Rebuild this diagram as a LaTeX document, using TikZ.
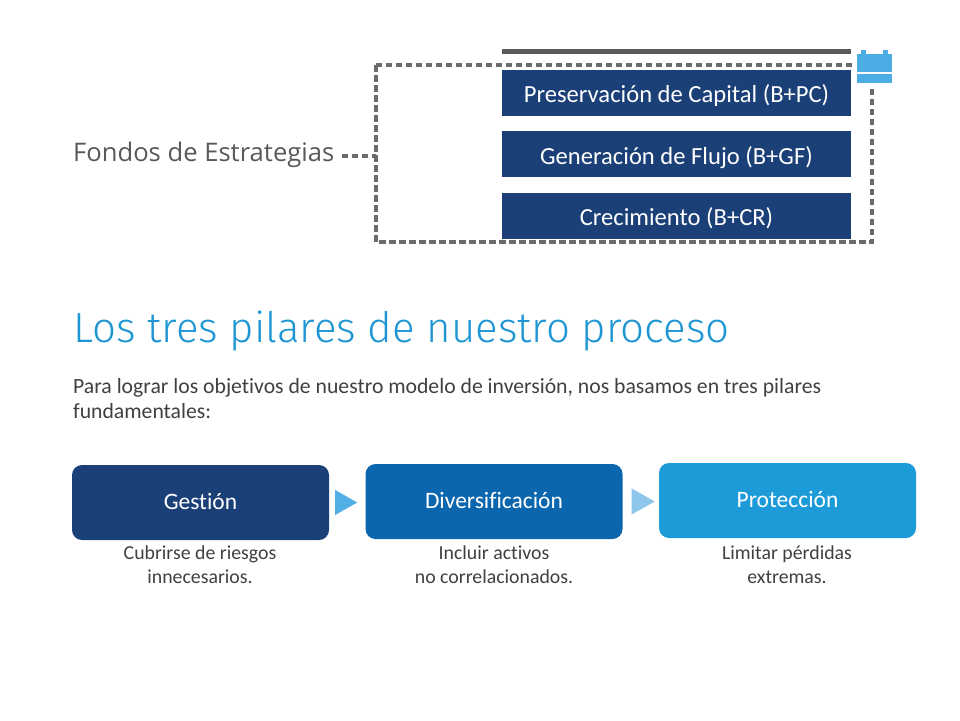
\documentclass[tikz,border=0pt]{standalone}
\usepackage{fontspec}
\setmainfont{Carlito}[Ligatures=NoCommon]
\newfontfamily\opensans{Open Sans}
\IfFontExistsTF{Fira Sans Light}{\newfontfamily\lightfont{Fira Sans Light}}{%
 \IfFontExistsTF{Lato Light}{\newfontfamily\lightfont{Lato Light}}{%
  \IfFontExistsTF{Open Sans Light}{\newfontfamily\lightfont{Open Sans Light}}{%
   \newfontfamily\lightfont{Lato}}}}
\usetikzlibrary{positioning}
\definecolor{navy}{HTML}{1B3F77}
\definecolor{midblue}{HTML}{0B66AE}
\definecolor{lightblue}{HTML}{1D9BD8}
\definecolor{titleblue}{HTML}{1E96D3}
\definecolor{iconblue}{HTML}{4BADE3}
\definecolor{tri1}{HTML}{52AFE6}
\definecolor{tri2}{HTML}{8EC6EC}
\definecolor{txtgray}{HTML}{404040}
\definecolor{dashgray}{HTML}{6B6B6B}
\tikzset{
  fundbox/.style={fill=navy, text=white, minimum width=349pt, minimum height=46pt, inner sep=0pt, text height=21pt, text depth=1pt, font=\fontsize{24.6}{28}\selectfont},
  pillar/.style={rounded corners=10pt, text=white, minimum width=257pt, minimum height=75pt, inner sep=0pt, text height=14pt, text depth=1pt, font=\fontsize{23.5}{27}\selectfont},
  caption/.style={text=txtgray, align=center, font=\fontsize{19.8}{23.5}\selectfont, inner sep=0pt},
  dashline/.style={draw=dashgray, line width=3.5pt, dash pattern=on 6.5pt off 3.5pt},
  icon/.style={fill=iconblue, draw=none},
}
\begin{document}
\begin{tikzpicture}[x=1pt,y=-1pt]
\useasboundingbox (0,0) rectangle (960,720);
\fill[white] (0,0) rectangle (960,720);
% top bar
\fill[black!65] (502,49) rectangle (851,54);
% dashed frame
\coordinate (frameW) at (376,156);
\draw[dashline] (376,65) rectangle (872,242);
% icon (covers frame corner)
\fill[white] (854,46) rectangle (895,85);
\fill[icon] (861,50) rectangle (866,55);
\fill[icon] (883,50) rectangle (888,55);
\fill[icon] (857,54) rectangle (892,72);
\fill[icon] (857,74) rectangle (892,83);
% fund boxes
\node[fundbox] (pc) at (676.5,92.5) {Preservación de Capital (B+PC)};
\node[fundbox] (gf) at (676.5,154) {Generación de Flujo (B+GF)};
\node[fundbox] (cr) at (676.5,215.5) {Crecimiento (B+CR)};
% label
\node[anchor=base west, text=black!65, inner sep=0pt, font=\opensans\fontsize{25.6}{30}\selectfont] (fondos) at (73,161) {Fondos de Estrategias};
\draw[dashline] ([xshift=7pt]fondos.east |- frameW) -- (frameW);
% title
\node[anchor=base west, text=titleblue, inner sep=0pt, font=\lightfont\fontsize{42}{48}\selectfont] (title) at (73,342) {Los tres pilares de nuestro proceso};
\node[anchor=base west, text=txtgray, inner sep=0pt, align=left, font=\fontsize{21.7}{25}\selectfont] (para) at (73,418) {Para lograr los objetivos de nuestro modelo de inversión, nos basamos en tres pilares\\fundamentales:};
% pillars
\node[pillar, fill=navy] (g) at (200.5,502.5) {Gestión};
\node[pillar, fill=midblue] (d) at (494,501.5) {Diversificación};
\node[pillar, fill=lightblue] (p) at (787.5,500.5) {Protección};
% triangles
\fill[tri1] ([xshift=6pt,yshift=-12.5pt]g.east) -- ([xshift=28pt]g.east) -- ([xshift=6pt,yshift=12.5pt]g.east) -- cycle;
\fill[tri2] ([xshift=9pt,yshift=-13pt]d.east) -- ([xshift=32pt]d.east) -- ([xshift=9pt,yshift=13pt]d.east) -- cycle;
% captions
\node[caption, anchor=north] (cg) at (200,546) {Cubrirse de riesgos\\innecesarios.};
\node[caption, anchor=north] (cd) at (494,546) {Incluir activos\\no correlacionados.};
\node[caption, anchor=north] (cp) at (787,546) {Limitar pérdidas\\extremas.};
\end{tikzpicture}
\end{document}
